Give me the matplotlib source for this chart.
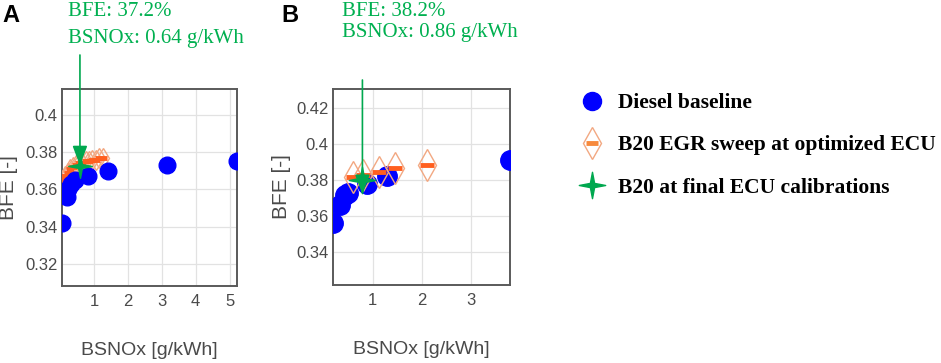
import matplotlib
matplotlib.use("Agg")
import matplotlib.pyplot as plt
from matplotlib.lines import Line2D
from matplotlib.path import Path
from matplotlib.ticker import FormatStrFormatter

# panel A data
a_diesel_x = [0.05, 0.19, 0.24, 0.32, 0.43, 0.82, 1.41, 3.15, 5.22]
a_diesel_y = [0.342, 0.356, 0.360, 0.363, 0.365, 0.367, 0.370, 0.373, 0.3755]
a_egr_x = [0.08, 0.15, 0.22, 0.30, 0.38, 0.46, 0.55, 0.65, 0.75, 0.85, 0.95, 1.05, 1.15, 1.25]
a_egr_y = [0.365, 0.367, 0.369, 0.371, 0.372, 0.373, 0.374, 0.374, 0.375, 0.375, 0.376, 0.376, 0.377, 0.377]
a_final_x = [0.58]
a_final_y = [0.3728]

# panel B data
b_diesel_x = [0.19, 0.33, 0.43, 0.50, 0.88, 1.30, 3.80]
b_diesel_y = [0.356, 0.366, 0.3717, 0.373, 0.378, 0.3825, 0.3913]
b_egr_x = [0.60, 0.81, 1.12, 1.46, 2.11]
b_egr_y = [0.3818, 0.3828, 0.3846, 0.3865, 0.3884]
b_final_x = [0.79]
b_final_y = [0.380]

a_xticks = [1, 2, 3, 4, 5]
a_yticks = [0.32, 0.34, 0.36, 0.38, 0.40]
b_xticks = [1, 2, 3]
b_yticks = [0.34, 0.36, 0.38, 0.40, 0.42]

a_note = ["BFE: 37.2%", "BSNOx: 0.64 g/kWh"]
b_note = ["BFE: 38.2%", "BSNOx: 0.86 g/kWh"]
legend_labels = ["Diesel baseline", "B20 EGR sweep at optimized ECU",
                 "B20 at final ECU calibrations"]

BLUE = "#0000ff"
DIAMOND = "#f2a882"
DASH = "#ff5f1f"
GREEN = "#00a84f"
TXT_GREEN = "#00b050"
GRAY = "#4a4a4a"

r = 0.16
star = Path([(0, 1), (r, r), (1, 0), (r, -r), (0, -1), (-r, -r), (-1, 0), (-r, r), (0, 1)],
            [Path.MOVETO] + [Path.LINETO] * 7 + [Path.CLOSEPOLY])

fig = plt.figure(figsize=(9.41, 3.63), dpi=100)
axA = fig.add_axes([62 / 941, 1 - 286 / 363, 175 / 941, 197 / 363])
axB = fig.add_axes([333 / 941, 1 - 285 / 363, 177 / 941, 196 / 363])


def panel(ax, dx, dy, ex, ey, fx, fy, xt, yt, ylim, dsz, esz, ssz, ylx, ez):
    ax.plot(ex, ey, ls="none", marker="d", ms=esz, mfc="none", mec=DIAMOND, mew=1.0, zorder=ez)
    ax.plot(ex, ey, ls="none", marker="_", ms=esz * 0.6, mec=DASH, mew=3.5, zorder=ez)
    ax.plot(dx, dy, ls="none", marker="o", ms=dsz, mfc=BLUE, mec=BLUE, zorder=4)
    ax.plot(fx, fy, ls="none", marker=star, ms=ssz, mfc=GREEN, mec=GREEN, zorder=6)
    ax.set_xlim(min(dx), max(dx))
    ax.set_ylim(*ylim)
    ax.set_xticks(xt)
    ax.set_yticks(yt)
    ax.yaxis.set_major_formatter(FormatStrFormatter("%g"))
    ax.grid(True, color="#e2e2e2", lw=0.9)
    ax.set_axisbelow(True)
    for s in ax.spines.values():
        s.set_color("#5a5a5a")
        s.set_linewidth(1.4)
    ax.tick_params(axis="x", length=0, pad=6, labelsize=12, labelcolor=GRAY)
    ax.tick_params(axis="y", length=0, pad=3, labelsize=12, labelcolor=GRAY)
    ax.set_xlabel("BSNOx [g/kWh]", fontsize=14, color=GRAY, family="Liberation Sans")
    ax.xaxis.set_label_coords(0.5, -0.285)
    ax.set_ylabel("BFE [-]", fontsize=15, color=GRAY, family="Liberation Sans")
    ax.yaxis.set_label_coords(ylx, 0.5)
    for lab in ax.get_xticklabels() + ax.get_yticklabels():
        lab.set_family("Liberation Sans")


panel(axA, a_diesel_x, a_diesel_y, a_egr_x, a_egr_y, a_final_x, a_final_y,
      a_xticks, a_yticks, (0.308, 0.414), 12, 10, 17, -0.25, 3)
panel(axB, b_diesel_x, b_diesel_y, b_egr_x, b_egr_y, b_final_x, b_final_y,
      b_xticks, b_yticks, (0.3214, 0.4308), 14, 16, 19, -0.235, 5)

# arrows from the notes down to the final points
arrow = dict(arrowstyle="-|>,head_length=0.8,head_width=0.3", color=GREEN, lw=1.2,
             shrinkA=0, shrinkB=0, mutation_scale=15)
axA.annotate("", xy=(a_final_x[0], a_final_y[0]), xytext=(a_final_x[0], 1 - 55 / 363),
             textcoords=("data", "figure fraction"), arrowprops=arrow, annotation_clip=False, zorder=5)
axB.annotate("", xy=(b_final_x[0], b_final_y[0] - 0.008), xytext=(b_final_x[0], 1 - 80 / 363),
             textcoords=("data", "figure fraction"), arrowprops=arrow, annotation_clip=False, zorder=5.5)

note = dict(fontsize=15, color=TXT_GREEN, family="Liberation Serif", va="center", ha="left")
fig.text(68 / 941, 1 - 12 / 363, a_note[0], **note)
fig.text(68 / 941, 1 - 38 / 363, a_note[1], **note)
fig.text(342 / 941, 1 - 12 / 363, b_note[0], **note)
fig.text(342 / 941, 1 - 33 / 363, b_note[1], **note)

fig.text(2 / 941, 1 - 16 / 363, "A", fontsize=17, fontweight="bold", family="Liberation Sans", va="center")
fig.text(281 / 941, 1 - 16 / 363, "B", fontsize=17, fontweight="bold", family="Liberation Sans", va="center")

h_diesel = Line2D([], [], ls="none", marker="o", ms=13, mfc=BLUE, mec=BLUE)
h_dia = Line2D([], [], ls="none", marker="d", ms=16, mfc="none", mec=DIAMOND, mew=1.0)
h_dash = Line2D([], [], ls="none", marker="_", ms=9, mec="#f7893c", mew=3.5)
h_star = Line2D([], [], ls="none", marker=star, ms=19, mfc=GREEN, mec=GREEN)
fig.legend([h_diesel, (h_dia, h_dash), h_star], legend_labels, loc="upper left",
           bbox_to_anchor=(579 / 941, 1 - 93 / 363), frameon=False, borderpad=0, borderaxespad=0,
           handlelength=1.2, handletextpad=0.6, labelspacing=1.03,
           prop=dict(family="Liberation Serif", weight="bold", size=15.5))

fig.savefig("out.png", dpi=100)
